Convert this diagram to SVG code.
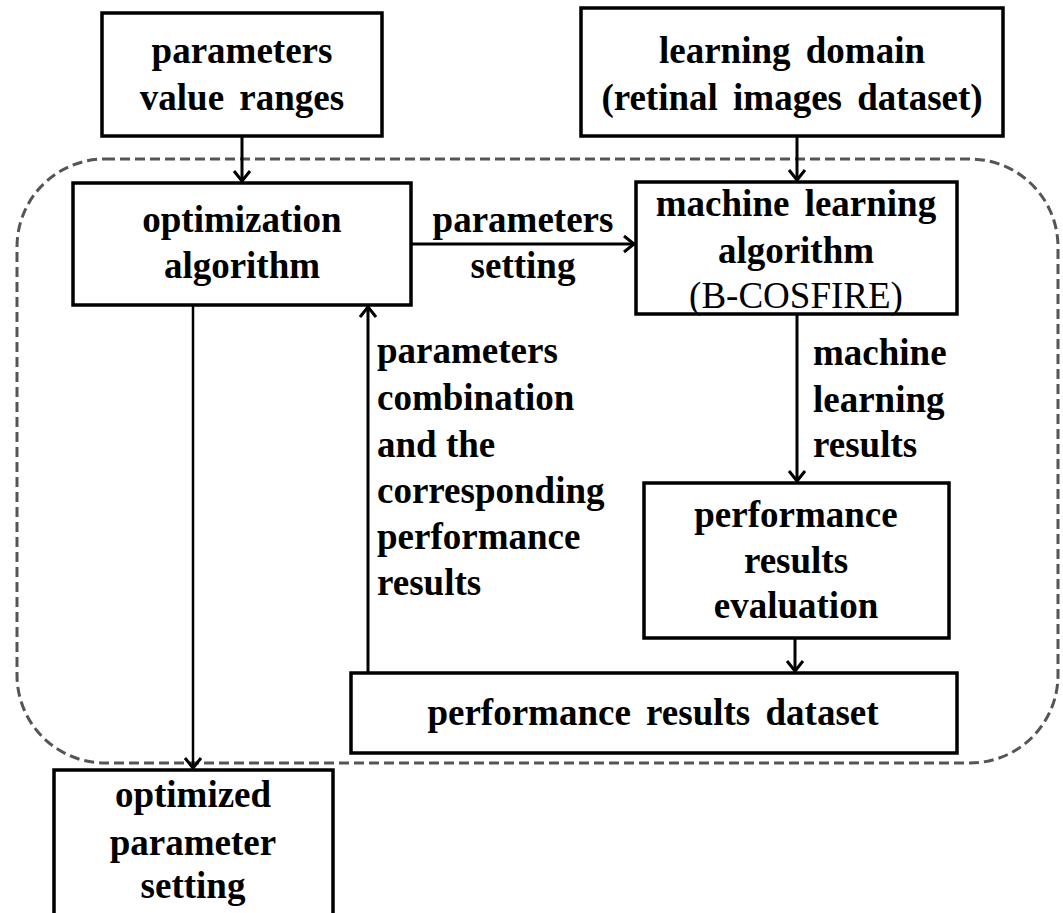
<svg xmlns="http://www.w3.org/2000/svg" width="1063" height="913" viewBox="0 0 1063 913">
<style>
.box{fill:#fff;stroke:#000;stroke-width:3.5}
.t{font-family:"Liberation Serif","Times New Roman",serif;font-weight:bold;font-size:37px;fill:#000}
.c{text-anchor:middle}
.l{text-anchor:start}
.edge{stroke:#000;stroke-width:3;fill:none}
.thin{stroke:#000;stroke-width:2.5;fill:none}
.dash{fill:none;stroke:#555;stroke-width:3;stroke-dasharray:10 5}
</style>
<defs>
<marker id="arr" markerUnits="userSpaceOnUse" markerWidth="20" markerHeight="20" viewBox="-12 -10 14 20" refX="0" refY="0" orient="auto">
<path d="M-10,-8 L0,0 L-10,8" fill="none" stroke="#000" stroke-width="3"/>
</marker>
</defs>
<rect class="dash" x="17" y="159" width="1041" height="604" rx="88" ry="88"/>
<g id="connectors">
<line class="edge" x1="242" y1="136" x2="242" y2="181" marker-end="url(#arr)"/>
<line class="edge" x1="797" y1="136" x2="797" y2="180" marker-end="url(#arr)"/>
<line class="edge" x1="411" y1="244" x2="634" y2="244" marker-end="url(#arr)"/>
<line class="edge" x1="797" y1="314" x2="797" y2="481" marker-end="url(#arr)"/>
<line class="edge" x1="795" y1="638" x2="795" y2="671" marker-end="url(#arr)"/>
<line class="edge" x1="368" y1="673" x2="368" y2="307" marker-end="url(#arr)"/>
<line class="thin" x1="193" y1="305" x2="193" y2="768" marker-end="url(#arr)"/>
<text class="t c" x="523" y="232">parameters</text>
<text class="t c" x="523" y="278">setting</text>
<text class="t l" x="813" y="365">machine</text>
<text class="t l" x="813" y="412">learning</text>
<text class="t l" x="813" y="457">results</text>
<text class="t l" x="377" y="363">parameters</text>
<text class="t l" x="377" y="410">combination</text>
<text class="t l" x="377" y="457">and the</text>
<text class="t l" x="377" y="503">corresponding</text>
<text class="t l" x="377" y="549">performance</text>
<text class="t l" x="377" y="595">results</text>
</g>
<g id="n-ranges">
<rect class="box" x="102" y="13" width="280" height="123"/>
<text class="t c" x="242" y="63">parameters</text>
<text class="t c" x="242" y="110" word-spacing="6">value ranges</text>
</g>
<g id="n-domain">
<rect class="box" x="581" y="8" width="422" height="128"/>
<text class="t c" x="792" y="63" word-spacing="6">learning domain</text>
<text class="t c" x="792" y="110" word-spacing="6">(retinal images dataset)</text>
</g>
<g id="n-opt">
<rect class="box" x="73" y="183" width="338" height="122"/>
<text class="t c" x="242" y="232">optimization</text>
<text class="t c" x="242" y="278">algorithm</text>
</g>
<g id="n-ml">
<rect class="box" x="636" y="182" width="321" height="132"/>
<text class="t c" x="796" y="216" word-spacing="6">machine learning</text>
<text class="t c" x="796" y="263">algorithm</text>
<text class="t c" x="796" y="308" style="font-weight:normal">(B-COSFIRE)</text>
</g>
<g id="n-eval">
<rect class="box" x="644" y="483" width="305" height="155"/>
<text class="t c" x="796" y="527">performance</text>
<text class="t c" x="796" y="573">results</text>
<text class="t c" x="796" y="618">evaluation</text>
</g>
<g id="n-dataset">
<rect class="box" x="351" y="673" width="606" height="80"/>
<text class="t c" x="653" y="725" word-spacing="6">performance results dataset</text>
</g>
<g id="n-optimized">
<rect class="box" x="54" y="770" width="279" height="150"/>
<text class="t c" x="193" y="807">optimized</text>
<text class="t c" x="193" y="855">parameter</text>
<text class="t c" x="193" y="898">setting</text>
</g>
</svg>
